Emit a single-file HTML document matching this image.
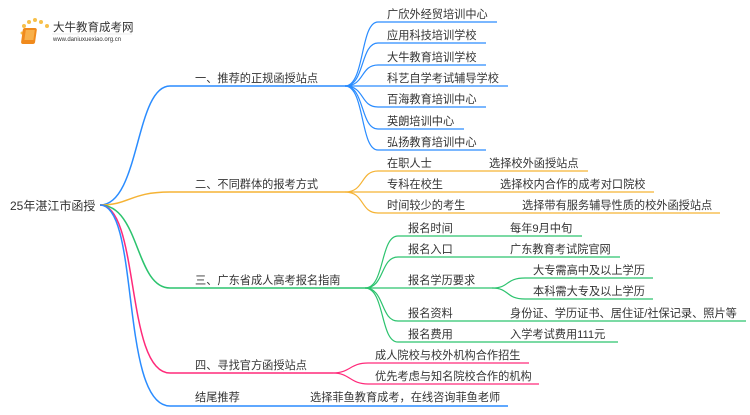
<!DOCTYPE html>
<html><head><meta charset="utf-8"><style>
html,body{margin:0;padding:0;background:#fff;}
svg text{font-family:"Liberation Sans","Noto Sans CJK SC",sans-serif;fill:#333;}
</style></head><body>
<svg width="750" height="410" viewBox="0 0 750 410" xmlns="http://www.w3.org/2000/svg">
<g fill="#f7c04a">
<circle cx="24" cy="26" r="2"/><circle cx="29" cy="22" r="2"/><circle cx="35" cy="20" r="2"/><circle cx="41" cy="22" r="2"/><circle cx="47" cy="26" r="2"/><circle cx="22" cy="33" r="1.5"/><circle cx="23" cy="40" r="1.2"/>
</g>
<rect x="27" y="28" width="14" height="16" rx="2" fill="#f08a1c" transform="skewX(-8)"/>
<rect x="30" y="30" width="9" height="10" fill="#f8b04a" transform="skewX(-8)"/>
<text x="53" y="31" font-size="11.5" fill="#333">大牛教育成考网</text>
<text x="53" y="41" font-size="6" fill="#777">www.daniuxuexiao.org.cn</text>
<line x1="52" y1="34" x2="132" y2="34" stroke="#ddd" stroke-width="0.6"/>

<text x="10" y="210" font-size="12">25年湛江市函授</text>

<g fill="none" stroke-width="1.5">
<path d="M100,205 C140,205 135,86 170,86 L345,86" stroke="#2a8cff"/>
<path d="M100,205 C130,205 130,192 170,192 L345,192" stroke="#f5b335"/>
<path d="M100,205 C140,205 135,288 170,288 L365,288" stroke="#2cc36e"/>
<path d="M100,205 C140,205 125,373 170,373 L333,373" stroke="#ff2a7a"/>
<path d="M100,205 C140,205 120,406 170,406 L508,406" stroke="#2a8cff"/>
</g>
<g fill="none" stroke="#2a8cff" stroke-width="1.2">
<path d="M345,86 C365,86 360,22 378,22 L497,22"/>
<path d="M345,86 C365,86 360,43 378,43 L486,43"/>
<path d="M345,86 C365,86 360,65 378,65 L486,65"/>
<path d="M345,86 L508,86"/>
<path d="M345,86 C365,86 360,107 378,107 L486,107"/>
<path d="M345,86 C365,86 360,129 378,129 L464,129"/>
<path d="M345,86 C365,86 360,150 378,150 L486,150"/>
</g>
<g fill="none" stroke="#f5b335" stroke-width="1.2">
<path d="M345,192 C365,192 360,171 378,171 L588,171"/>
<path d="M345,192 L654,192"/>
<path d="M345,192 C365,192 360,213 378,213 L720,213"/>
</g>
<g fill="none" stroke="#2cc36e" stroke-width="1.2">
<path d="M365,288 C385,288 380,236 398,236 L582,236"/>
<path d="M365,288 C385,288 380,257 398,257 L620,257"/>
<path d="M365,288 L492,288"/>
<path d="M365,288 C385,288 380,321 398,321 L746,321"/>
<path d="M365,288 C385,288 380,342 398,342 L618,342"/>
<path d="M492,288 C510,288 505,278 525,278 L653,278"/>
<path d="M492,288 C510,288 505,299 525,299 L653,299"/>
</g>
<g fill="none" stroke="#ff2a7a" stroke-width="1.2">
<path d="M333,373 C350,373 350,363 368,363 L529,363"/>
<path d="M333,373 C350,373 350,384 368,384 L539,384"/>
</g>

<g font-size="11.2">
<text x="195" y="82">一、推荐的正规函授站点</text>
<text x="195" y="188">二、不同群体的报考方式</text>
<text x="195" y="284">三、广东省成人高考报名指南</text>
<text x="195" y="369">四、寻找官方函授站点</text>
<text x="195" y="401">结尾推荐</text>
<text x="310" y="401">选择菲鱼教育成考，在线咨询菲鱼老师</text>

<text x="387" y="18">广欣外经贸培训中心</text>
<text x="387" y="39">应用科技培训学校</text>
<text x="387" y="61">大牛教育培训学校</text>
<text x="387" y="82">科艺自学考试辅导学校</text>
<text x="387" y="103">百海教育培训中心</text>
<text x="387" y="125">英朗培训中心</text>
<text x="387" y="146">弘扬教育培训中心</text>

<text x="387" y="167">在职人士</text><text x="489" y="167">选择校外函授站点</text>
<text x="387" y="188">专科在校生</text><text x="500" y="188">选择校内合作的成考对口院校</text>
<text x="387" y="209">时间较少的考生</text><text x="522" y="209">选择带有服务辅导性质的校外函授站点</text>

<text x="408" y="232">报名时间</text><text x="510" y="232">每年9月中旬</text>
<text x="408" y="253">报名入口</text><text x="510" y="253">广东教育考试院官网</text>
<text x="408" y="284">报名学历要求</text>
<text x="533" y="274">大专需高中及以上学历</text>
<text x="533" y="295">本科需大专及以上学历</text>
<text x="408" y="317">报名资料</text><text x="510" y="317">身份证、学历证书、居住证/社保记录、照片等</text>
<text x="408" y="338">报名费用</text><text x="510" y="338">入学考试费用111元</text>

<text x="375" y="359">成人院校与校外机构合作招生</text>
<text x="375" y="380">优先考虑与知名院校合作的机构</text>
</g>
</svg>
</body></html>
